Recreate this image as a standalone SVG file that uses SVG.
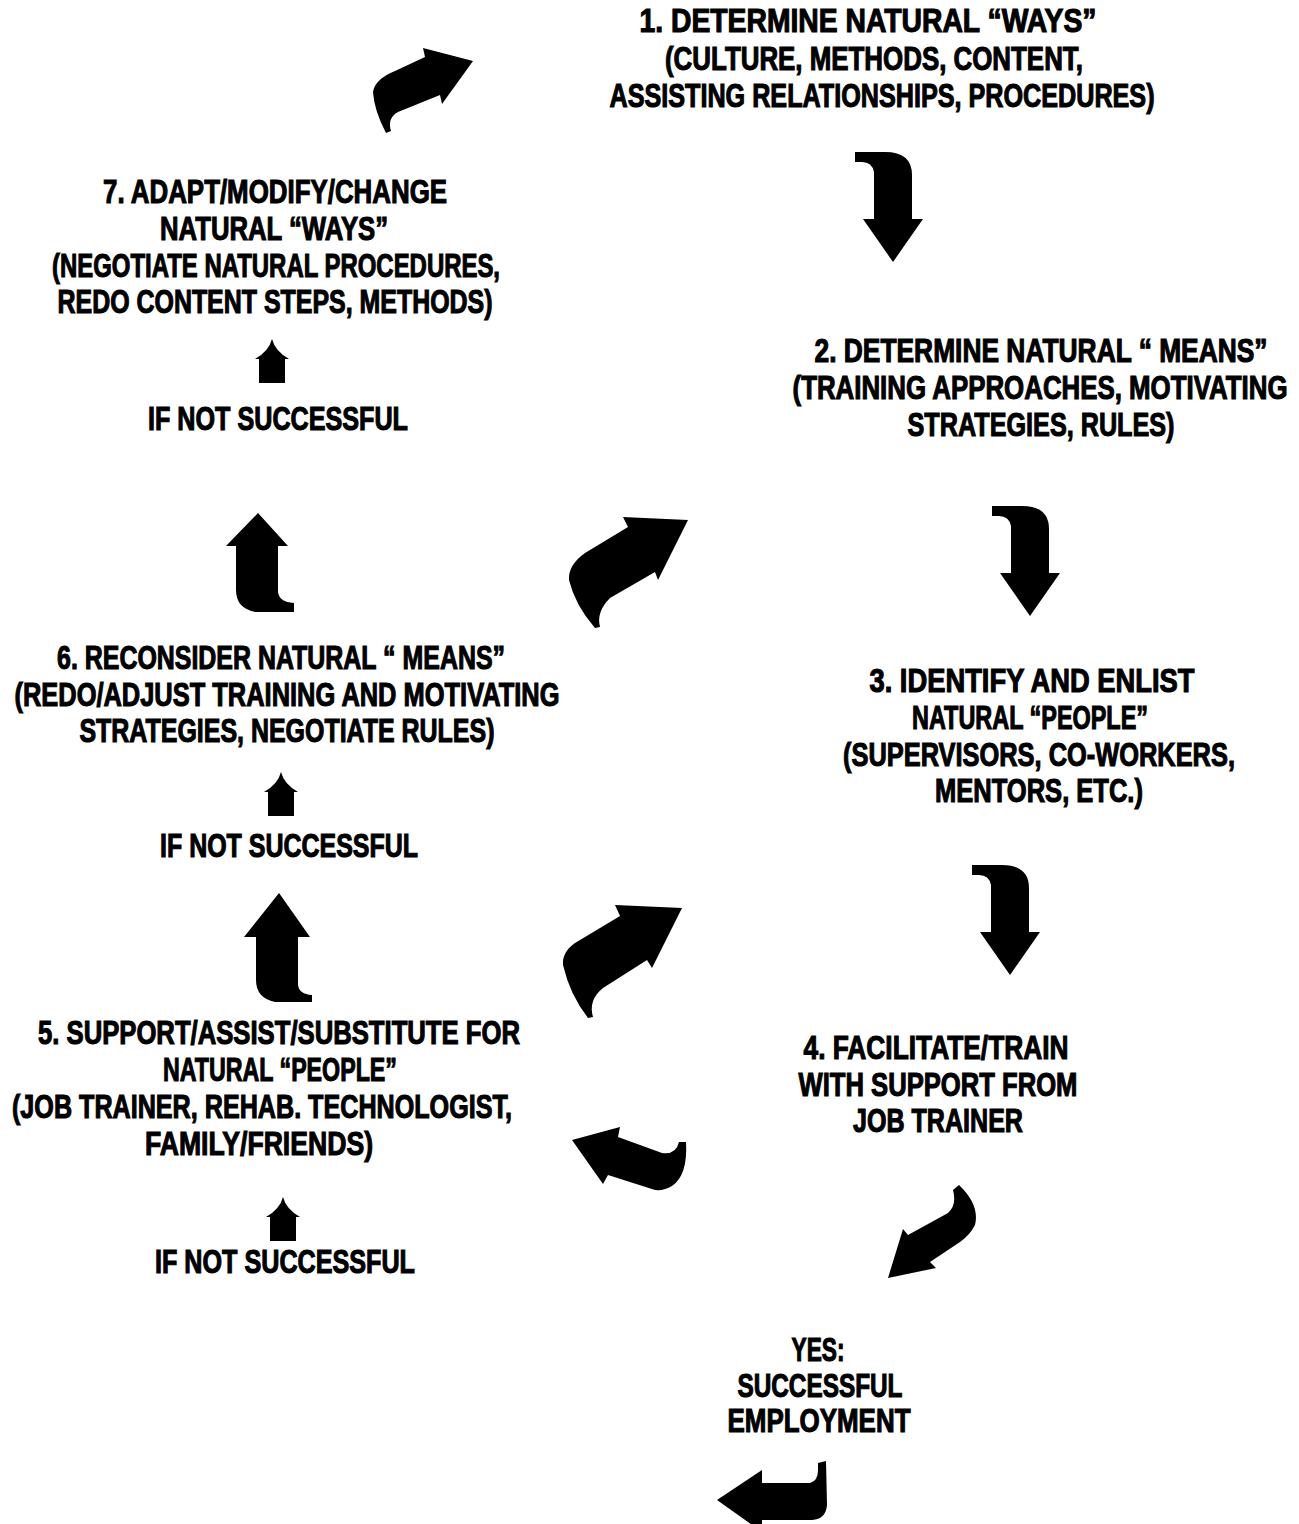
<svg xmlns="http://www.w3.org/2000/svg" width="1299" height="1524" viewBox="0 0 1299 1524">
<style>
.t{font-family:"Liberation Sans",Arial,sans-serif;font-weight:bold;font-size:33px;fill:#000;stroke:#000;stroke-width:1.1;text-anchor:middle}
.a{fill:#000;stroke:none}
</style>
<defs>
<path id="small-up" d="M 0 -22 Q 3 -10 17 -2 L 13 -2 L 13 22 L -13 22 L -13 -2 L -17 -2 Q -3 -10 0 -22 Z"/>
<path id="down-bent" d="M 855 152 L 885 152 Q 912 152 912 175 L 912 219 L 923 219 L 893 262 L 863 219 L 874 219 L 874 172 Q 872 162 862 162 L 855 162 Z"/>
</defs>
<rect width="1299" height="1524" fill="#fff"/>

<g id="connectors">
<path class="a" d="M 473 61 L 423 48 L 425 57 L 395 71 Q 375 79 373 92 Q 374 110 386 133 L 391 131 Q 387 118 398 112 L 440 95 L 442 104 Z"/>
<use class="a" href="#down-bent"/>
<use class="a" href="#down-bent" transform="translate(137,354)"/>
<use class="a" href="#down-bent" transform="translate(117,713)"/>
<path class="a" d="M 688 520 L 623 517 L 628 527 L 585 553 Q 568 565 569 580 Q 575 605 595 628 L 600 627 Q 596 612 610 598 L 655 572 L 658 580 Z"/>
<path class="a" d="M 682 908 L 615 905 L 620 916 L 575 943 Q 562 952 563 965 Q 570 995 588 1018 L 593 1017 Q 588 1000 603 988 L 647 960 L 652 968 Z"/>
<path class="a" d="M 572 1140 L 620 1127 L 618 1137 L 662 1153 Q 676 1155 679 1142 L 686 1142 Q 688 1175 672 1186 Q 664 1191 655 1190 L 608 1175 L 603 1184 Z"/>
<path class="a" d="M 888 1278 L 903 1229 L 908 1235 L 948 1213 Q 957 1205 953 1190 L 959 1185 Q 980 1205 975 1225 Q 970 1235 960 1242 L 930 1262 L 936 1268 Z"/>
<path class="a" d="M 717 1500 L 762 1470 L 762 1483 L 810 1483 Q 818 1481 818 1470 L 818 1463 L 826 1461 L 827 1505 Q 826 1519 812 1520 L 762 1520 L 762 1532 Z"/>
<path class="a" d="M 258 513 L 288 546 L 278 546 L 278 592 Q 279 602 294 603 L 294 612 L 255 612 Q 236 608 236 590 L 236 546 L 226 546 Z"/>
<path class="a" d="M 279 893 L 310 937 L 298 937 L 298 985 Q 299 994 312 995 L 312 1002 L 275 1002 Q 256 998 256 980 L 256 937 L 244 937 Z"/>
<use class="a" href="#small-up" transform="translate(272,361)"/>
<use class="a" href="#small-up" transform="translate(281,794)"/>
<use class="a" href="#small-up" transform="translate(283,1219)"/>
</g>

<g id="node1" transform="scale(0.66,1)">
<text class="t" x="1315.2" y="32" textLength="692.4" lengthAdjust="spacingAndGlyphs">1. DETERMINE NATURAL “WAYS”</text>
<text class="t" x="1324.2" y="70" textLength="633.3" lengthAdjust="spacingAndGlyphs">(CULTURE, METHODS, CONTENT,</text>
<text class="t" x="1336.4" y="107" textLength="825.8" lengthAdjust="spacingAndGlyphs">ASSISTING RELATIONSHIPS, PROCEDURES)</text>
</g>

<g id="node2" transform="scale(0.66,1)">
<text class="t" x="1577.3" y="362" textLength="686.4" lengthAdjust="spacingAndGlyphs">2. DETERMINE NATURAL “ MEANS”</text>
<text class="t" x="1575.8" y="399" textLength="750" lengthAdjust="spacingAndGlyphs">(TRAINING APPROACHES, MOTIVATING</text>
<text class="t" x="1577.3" y="436" textLength="404.5" lengthAdjust="spacingAndGlyphs">STRATEGIES, RULES)</text>
</g>

<g id="node3" transform="scale(0.66,1)">
<text class="t" x="1563.6" y="692" textLength="492.4" lengthAdjust="spacingAndGlyphs">3. IDENTIFY AND ENLIST</text>
<text class="t" x="1560.6" y="729" textLength="357.6" lengthAdjust="spacingAndGlyphs">NATURAL “PEOPLE”</text>
<text class="t" x="1574.2" y="766" textLength="593.9" lengthAdjust="spacingAndGlyphs">(SUPERVISORS, CO-WORKERS,</text>
<text class="t" x="1574.2" y="802" textLength="315.2" lengthAdjust="spacingAndGlyphs">MENTORS, ETC.)</text>
</g>

<g id="node4" transform="scale(0.66,1)">
<text class="t" x="1418.2" y="1059" textLength="401.5" lengthAdjust="spacingAndGlyphs">4. FACILITATE/TRAIN</text>
<text class="t" x="1421.2" y="1096" textLength="422.7" lengthAdjust="spacingAndGlyphs">WITH SUPPORT FROM</text>
<text class="t" x="1421.2" y="1132" textLength="257.6" lengthAdjust="spacingAndGlyphs">JOB TRAINER</text>
</g>

<g id="node-yes" transform="scale(0.66,1)">
<text class="t" x="1239.4" y="1361" textLength="80.3" lengthAdjust="spacingAndGlyphs">YES:</text>
<text class="t" x="1242.4" y="1397" textLength="250" lengthAdjust="spacingAndGlyphs">SUCCESSFUL</text>
<text class="t" x="1240.9" y="1432" textLength="277.3" lengthAdjust="spacingAndGlyphs">EMPLOYMENT</text>
</g>

<g id="node5" transform="scale(0.66,1)">
<text class="t" x="422.7" y="1044" textLength="730.3" lengthAdjust="spacingAndGlyphs">5. SUPPORT/ASSIST/SUBSTITUTE FOR</text>
<text class="t" x="424.2" y="1081" textLength="354.5" lengthAdjust="spacingAndGlyphs">NATURAL “PEOPLE”</text>
<text class="t" x="397" y="1118" textLength="757.6" lengthAdjust="spacingAndGlyphs">(JOB TRAINER, REHAB. TECHNOLOGIST,</text>
<text class="t" x="392.4" y="1155" textLength="345.5" lengthAdjust="spacingAndGlyphs">FAMILY/FRIENDS)</text>
<text class="t" x="431.8" y="1273" textLength="393.9" lengthAdjust="spacingAndGlyphs">IF NOT SUCCESSFUL</text>
</g>

<g id="node6" transform="scale(0.66,1)">
<text class="t" x="425.8" y="669" textLength="678.8" lengthAdjust="spacingAndGlyphs">6. RECONSIDER NATURAL “ MEANS”</text>
<text class="t" x="434.8" y="706" textLength="825.8" lengthAdjust="spacingAndGlyphs">(REDO/ADJUST TRAINING AND MOTIVATING</text>
<text class="t" x="434.8" y="742" textLength="628.8" lengthAdjust="spacingAndGlyphs">STRATEGIES, NEGOTIATE RULES)</text>
<text class="t" x="437.9" y="857" textLength="390.9" lengthAdjust="spacingAndGlyphs">IF NOT SUCCESSFUL</text>
</g>

<g id="node7" transform="scale(0.66,1)">
<text class="t" x="416.7" y="203" textLength="521.2" lengthAdjust="spacingAndGlyphs">7. ADAPT/MODIFY/CHANGE</text>
<text class="t" x="415.2" y="240" textLength="345.5" lengthAdjust="spacingAndGlyphs">NATURAL  “WAYS”</text>
<text class="t" x="418.2" y="277" textLength="678.8" lengthAdjust="spacingAndGlyphs">(NEGOTIATE NATURAL PROCEDURES,</text>
<text class="t" x="416.7" y="313" textLength="659.1" lengthAdjust="spacingAndGlyphs">REDO CONTENT STEPS, METHODS)</text>
<text class="t" x="421.2" y="430" textLength="393.9" lengthAdjust="spacingAndGlyphs">IF NOT SUCCESSFUL</text>
</g>
</svg>
